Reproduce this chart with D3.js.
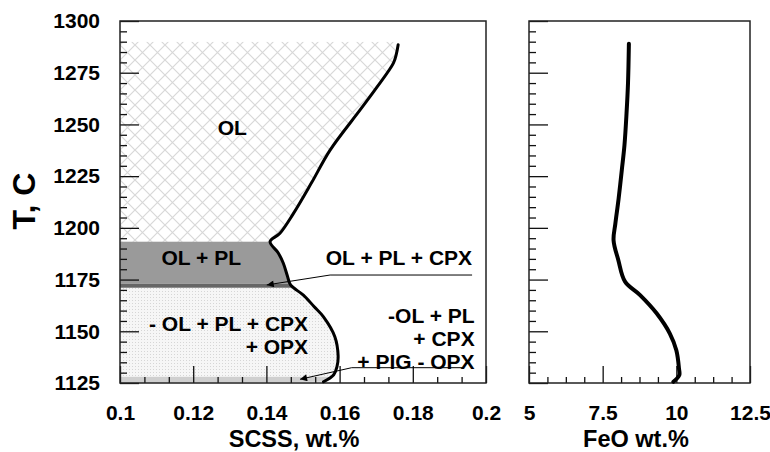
<!DOCTYPE html>
<html>
<head>
<meta charset="utf-8">
<script src="https://cdn.jsdelivr.net/npm/d3@7"></script>
<style>
  body { margin: 0; background: #fff; }
  text { font-family: Arial, "Liberation Sans", sans-serif; font-weight: bold; fill: #000; }
</style>
</head>
<body>
<div id="plot"></div>
<script>
// SCSS curve, [T (C), SCSS wt.%]
const scssCurve = [
    [1288.5, 0.1760], [1284, 0.1755], [1279.6, 0.1747], [1268, 0.1702], [1257, 0.1656],
    [1237.6, 0.1574], [1222, 0.1524], [1207, 0.1474], [1197.4, 0.1437], [1193.3, 0.1410],
    [1188, 0.1432], [1183, 0.1446], [1177, 0.1457], [1172.4, 0.1466], [1167.5, 0.1501],
    [1162, 0.1530], [1157, 0.1556], [1147.4, 0.1587], [1138, 0.1596], [1133, 0.1593],
    [1129, 0.1584], [1125.6, 0.1556]
];

// FeO curve, [T (C), FeO wt.%]
const feoCurve = [
    [1289, 8.39], [1270, 8.36], [1255.4, 8.31], [1240, 8.24], [1228, 8.15], [1214, 8.04],
    [1202, 7.93], [1194, 7.87], [1184.5, 8.03], [1174, 8.26], [1167.5, 8.77], [1158.7, 9.33],
    [1148.9, 9.78], [1140.8, 10.0], [1132, 10.09], [1128.8, 10.10], [1125.6, 9.90]
];

// phase fields below the curve: [T low, T high, fill]
const phaseBands = [
    [1193.3, 1290, "url(#hatch)"],
    [1173, 1193.3, "#9a9a9a"],
    [1171, 1173, "#666"],
    [1128, 1171, "url(#dots)"],
    [1125, 1128, "#cfcfcf"]
];

const yTicks = [1125, 1150, 1175, 1200, 1225, 1250, 1275, 1300];
const xTicksL = [0.1, 0.12, 0.14, 0.16, 0.18, 0.2];
const xTicksR = [5, 7.5, 10, 12.5];

// labels: [text lines, SCSS, T]
const fieldLabels = [
    { lines: ["OL"], x: 0.1307, t: 1245, anchor: "middle" },
    { lines: ["OL + PL"], x: 0.1222, t: 1182, anchor: "middle" },
    { lines: ["- OL + PL + CPX", "+ OPX"], x: 0.1514, t: 1150, anchor: "end" }
];
const arrowLabels = [
    { lines: ["OL + PL + CPX"], x: 0.1962, t: 1182, anchor: "end",
      path: [[0.1962, 1177.2], [0.1574, 1177.2], [0.1401, 1172.4]] },
    { lines: ["-OL + PL", "+ CPX", "+ PIG - OPX"], x: 0.1969, t: 1153.8, anchor: "end",
      path: [[0.1936, 1132.4], [0.1633, 1132.4], [0.1492, 1126.8]] }
];

const width = 770, height = 452;
const plotTop = 21, plotBottom = 383;

const svg = d3.select("#plot").append("svg")
    .attr("width", width)
    .attr("height", height);

const defs = svg.append("defs");
const hatch = defs.append("pattern")
    .attr("id", "hatch")
    .attr("patternUnits", "userSpaceOnUse")
    .attr("width", 15).attr("height", 15);
hatch.append("path")
    .attr("d", "M0,0L15,15M15,0L0,15M-2,13L2,17M13,-2L17,2M-2,2L2,-2M13,17L17,13")
    .attr("stroke", "#d8d8d8").attr("stroke-width", 1.2).attr("fill", "none");

const dots = defs.append("pattern")
    .attr("id", "dots")
    .attr("patternUnits", "userSpaceOnUse")
    .attr("width", 3).attr("height", 3);
dots.append("rect").attr("width", 3).attr("height", 3).attr("fill", "#f6f6f6");
dots.append("rect").attr("width", 1).attr("height", 1).attr("fill", "#d6d6d6");

defs.append("marker")
    .attr("id", "arrow")
    .attr("viewBox", "0 0 10 10")
    .attr("refX", 10).attr("refY", 5)
    .attr("markerWidth", 11).attr("markerHeight", 7)
    .attr("markerUnits", "userSpaceOnUse")
    .attr("orient", "auto")
    .append("path")
    .attr("d", "M0,0L10,5L0,10Z")
    .attr("fill", "#000");

const y = d3.scaleLinear().domain([1125, 1300]).range([plotBottom, plotTop]);
const xL = d3.scaleLinear().domain([0.1, 0.2]).range([120, 486]);
const xR = d3.scaleLinear().domain([5, 12.5]).range([529, 750]);

const yMinor = d3.range(1125, 1301, 5).filter((d) => d % 25 !== 0);
const xMinorL = d3.range(0, 16).filter((i) => i % 3 !== 0).map((i) => 0.1 + i * 0.02 / 3);
const xMinorR = d3.range(0, 13).filter((i) => i % 4 !== 0).map((i) => 5 + i * 0.625);

// ---- left panel: phase fields
const lineL = d3.line()
    .x((d) => xL(d[1]))
    .y((d) => y(d[0]))
    .curve(d3.curveCatmullRom.alpha(0.5));

defs.append("clipPath")
    .attr("id", "below-curve")
    .append("path")
    .attr("d", lineL(scssCurve) +
        `L${xL(0.1)},${y(1125)}L${xL(0.1)},${y(1290)}L${xL(0.1765)},${y(1290)}Z`);

svg.append("g")
    .attr("clip-path", "url(#below-curve)")
    .selectAll("rect")
    .data(phaseBands)
    .join("rect")
    .attr("x", xL(0.1))
    .attr("y", (d) => y(d[1]))
    .attr("width", xL(0.2) - xL(0.1))
    .attr("height", (d) => y(d[0]) - y(d[1]))
    .attr("fill", (d) => d[2]);

// axes
function drawAxes(x, xTicks, xMinor, showY) {
    svg.append("g")
        .attr("transform", `translate(${x.range()[0]},0)`)
        .call(d3.axisLeft(y).tickValues(yTicks).tickSizeInner(-19).tickSizeOuter(0)
            .tickPadding(20).tickFormat(showY ? d3.format("d") : ""))
        .call((g) => g.select(".domain").remove());
    svg.append("g")
        .attr("transform", `translate(${x.range()[0]},0)`)
        .call(d3.axisLeft(y).tickValues(yMinor).tickSizeInner(-7).tickSizeOuter(0).tickFormat(""))
        .call((g) => g.select(".domain").remove());
    svg.append("g")
        .attr("transform", `translate(0,${plotBottom})`)
        .call(d3.axisBottom(x).tickValues(xTicks).tickSizeInner(-17).tickSizeOuter(0)
            .tickPadding(22).tickFormat((d) => String(d)))
        .call((g) => g.select(".domain").remove());
    svg.append("g")
        .attr("transform", `translate(0,${plotBottom})`)
        .call(d3.axisBottom(x).tickValues(xMinor).tickSizeInner(-6).tickSizeOuter(0).tickFormat(""))
        .call((g) => g.select(".domain").remove());
    svg.append("rect")
        .attr("x", x.range()[0]).attr("y", plotTop)
        .attr("width", x.range()[1] - x.range()[0])
        .attr("height", plotBottom - plotTop)
        .attr("fill", "none")
        .attr("stroke", "#222")
        .attr("stroke-width", 1.5);
}
drawAxes(xL, xTicksL, xMinorL, true);
drawAxes(xR, xTicksR, xMinorR, false);

svg.selectAll(".tick line").attr("stroke", "#111").attr("stroke-width", 1.3);
svg.selectAll(".tick text").style("font-size", "21px").attr("fill", "#000");

// curves
svg.append("path")
    .datum(scssCurve)
    .attr("d", lineL)
    .attr("fill", "none")
    .attr("stroke", "#000")
    .attr("stroke-width", 3)
    .attr("stroke-linecap", "round")
    .attr("stroke-linejoin", "round");

const lineR = d3.line()
    .x((d) => xR(d[1]))
    .y((d) => y(d[0]))
    .curve(d3.curveCatmullRom.alpha(0.5));

svg.append("path")
    .datum(feoCurve)
    .attr("d", lineR)
    .attr("fill", "none")
    .attr("stroke", "#000")
    .attr("stroke-width", 4)
    .attr("stroke-linecap", "round")
    .attr("stroke-linejoin", "round");

// labels
function drawLabel(d) {
    const t = svg.append("text")
        .attr("x", xL(d.x))
        .attr("y", y(d.t))
        .attr("text-anchor", d.anchor)
        .style("font-size", "21px");
    d.lines.forEach((s, i) => {
        t.append("tspan")
            .attr("x", xL(d.x))
            .attr("dy", i === 0 ? 0 : 23)
            .text(s);
    });
}
fieldLabels.forEach(drawLabel);
arrowLabels.forEach(drawLabel);

svg.selectAll("path.leader")
    .data(arrowLabels)
    .join("path")
    .attr("class", "leader")
    .attr("d", (d) => d3.line().x((p) => xL(p[0])).y((p) => y(p[1]))(d.path))
    .attr("fill", "none")
    .attr("stroke", "#000")
    .attr("stroke-width", 1)
    .attr("marker-end", "url(#arrow)");

// axis titles
svg.append("text")
    .attr("x", 294).attr("y", 446.5)
    .attr("text-anchor", "middle")
    .style("font-size", "23.5px")
    .text("SCSS, wt.%");

svg.append("text")
    .attr("x", 636).attr("y", 446.5)
    .attr("text-anchor", "middle")
    .style("font-size", "23.5px")
    .text("FeO wt.%");

svg.append("text")
    .attr("transform", "translate(35,201) rotate(-90)")
    .attr("text-anchor", "middle")
    .style("font-size", "32px")
    .text("T, C");
</script>
</body>
</html>
